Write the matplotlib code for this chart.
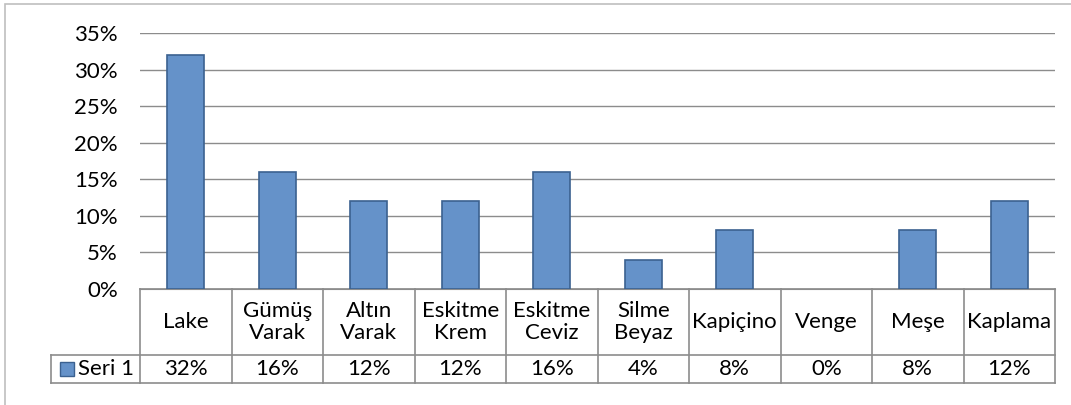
import numpy as np
import matplotlib.pyplot as plt
from matplotlib.patches import Rectangle
from matplotlib.transforms import blended_transform_factory

categories = ['Lake', 'Gümüş\nVarak', 'Altın\nVarak', 'Eskitme\nKrem', 'Eskitme\nCeviz',
              'Silme\nBeyaz', 'Kapiçino', 'Venge', 'Meşe', 'Kaplama']
values = [32, 16, 12, 12, 16, 4, 8, 0, 8, 12]
series_name = 'Seri 1'
y_ticks = [0, 5, 10, 15, 20, 25, 30, 35]

plt.rcParams['font.family'] = ['Lato', 'DejaVu Sans']
FS = 16
BAR = '#6592c9'
EDGE = '#3b6190'
LINE = '#8c8c8c'

W, H = 1071, 405
fig = plt.figure(figsize=(W / 100, H / 100), dpi=100)
ax = fig.add_axes([140 / W, 1 - 289 / H, 915 / W, 256 / H])

x = np.arange(len(categories))
bars = ax.bar(x, values, width=0.4, color=BAR, edgecolor=EDGE, linewidth=1.2, zorder=3)
for b, v in zip(bars, values):
    if v == 0:
        b.set_visible(False)
ax.set_xlim(-0.5, len(categories) - 0.5)
ax.set_ylim(0, 35)
ax.set_yticks(y_ticks)
ax.set_yticklabels([f'{v}%' for v in y_ticks], fontsize=FS)
ax.tick_params(axis='y', length=0, pad=16)
ax.set_xticks([])
ax.grid(axis='y', color=LINE, linewidth=1)
ax.set_axisbelow(True)
for s in ['top', 'right', 'left']:
    ax.spines[s].set_visible(False)
ax.spines['bottom'].set_color(LINE)

# data table under the plot
tr = blended_transform_factory(ax.transData, ax.transAxes)
row1 = -66 / 256
row2 = -94 / 256
left_x = -0.5 - 89 / 91.5
kw = dict(color=LINE, linewidth=1.2, transform=tr, clip_on=False)
ax.plot([-0.5, len(categories) - 0.5], [0, 0], **kw)
ax.plot([left_x, len(categories) - 0.5], [row1, row1], **kw)
ax.plot([left_x, len(categories) - 0.5], [row2, row2], **kw)
ax.plot([left_x, left_x], [row1, row2], **kw)
for b in np.arange(len(categories) + 1) - 0.5:
    ax.plot([b, b], [0, row2], **kw)

for i, (c, v) in enumerate(zip(categories, values)):
    ax.text(i, row1 / 2, c, ha='center', va='center', fontsize=FS,
            transform=tr, linespacing=1.15)
    ax.text(i, (row1 + row2) / 2, f'{v}%', ha='center', va='center',
            fontsize=FS, transform=tr)

mx = -0.5 + (60 - 140) / 91.5
ax.add_patch(Rectangle((mx, row1 - 21 / 256), 14 / 91.5, 14 / 256, transform=tr,
                       facecolor=BAR, edgecolor=EDGE, linewidth=1, clip_on=False))
ax.text(-0.5 + (78 - 140) / 91.5, (row1 + row2) / 2, series_name, ha='left',
        va='center', fontsize=FS, transform=tr)

# outer chart border
fig.add_artist(Rectangle((5 / W, -0.2), 1.2, 1.2 - 4 / H, transform=fig.transFigure,
                         fill=False, edgecolor='#bfbfbf', linewidth=1.2))

fig.savefig('out.png', dpi=100)
